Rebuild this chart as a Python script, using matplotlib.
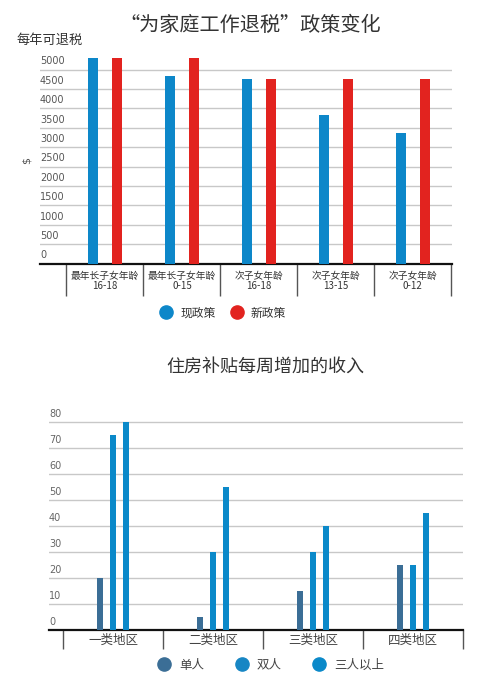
import numpy as np
import matplotlib
matplotlib.use("Agg")
import matplotlib.pyplot as plt
import matplotlib.transforms as mtransforms
from matplotlib.lines import Line2D

plt.rcParams['font.family'] = ['Noto Sans CJK SC', 'DejaVu Sans']

# top chart data
tax_cats = ["最年长子女年龄\n16-18", "最年长子女年龄\n0-15", "次子女年龄\n16-18",
            "次子女年龄\n13-15", "次子女年龄\n0-12"]
tax_now = [5290, 4825, 4750, 3820, 3355]
tax_new = [5290, 5290, 4750, 4750, 4750]
tax_ticks = [0, 500, 1000, 1500, 2000, 2500, 3000, 3500, 4000, 4500, 5000]

# bottom chart data
area_cats = ["一类地区", "二类地区", "三类地区", "四类地区"]
single = [20, 5, 15, 25]
couple = [75, 30, 30, 25]
three_plus = [80, 55, 40, 45]
area_ticks = [0, 10, 20, 30, 40, 50, 60, 70, 80]

c_blue = "#0d87c9"
c_red = "#e2231f"
c_dark = "#3b6e96"
c_blue2 = "#0b89c9"
grid_c = "#c8c8c8"

fig = plt.figure(figsize=(5, 6.86), dpi=100)

# ---------- top chart ----------
ax1 = fig.add_axes([0.08, 1 - 263.5 / 686, 0.824, 205.6 / 686])
x = np.arange(len(tax_cats))
ax1.bar(x - 0.155, tax_now, width=0.13, color=c_blue, zorder=3)
ax1.bar(x + 0.155, tax_new, width=0.13, color=c_red, zorder=3)
ax1.set_xlim(-0.844, 4.51)
ax1.set_ylim(0, 5300)
for v in tax_ticks[1:]:
    ax1.axhline(v, color=grid_c, lw=1, zorder=1)
tr1 = mtransforms.blended_transform_factory(ax1.transAxes, ax1.transData)
for v in tax_ticks:
    ax1.text(0.0, v + 80, str(v), transform=tr1, ha='left', va='bottom',
             fontsize=7, color="#555555", family='DejaVu Sans')
ax1.set_yticks([])
ax1.set_xticks(x)
ax1.set_xticklabels(tax_cats, fontsize=7, color="#333333", linespacing=1.1)
ax1.set_xticks(np.arange(len(tax_cats) + 1) - 0.5, minor=True)
ax1.tick_params(axis='x', which='major', length=0, pad=5)
ax1.tick_params(axis='x', which='minor', length=23, width=1, color="#555555")
for s in ['top', 'right', 'left']:
    ax1.spines[s].set_visible(False)
ax1.spines['bottom'].set_linewidth(1.6)
ax1.spines['bottom'].set_color("#111111")

fig.text(0.5, 1 - 25 / 686, "“为家庭工作退税”政策变化", ha='center', va='center',
         fontsize=14.5, color="#333333")
fig.text(17 / 500, 1 - 40 / 686, "每年可退税", ha='left', va='center',
         fontsize=9.5, color="#333333")
fig.text(27 / 500, 1 - 160 / 686, "$", ha='center', va='center', rotation=90,
         fontsize=8, color="#555555", family='DejaVu Sans')

h1 = [Line2D([], [], marker='o', ls='', color=c_blue, markersize=9.5),
      Line2D([], [], marker='o', ls='', color=c_red, markersize=9.5)]
fig.legend(h1, ["现政策", "新政策"], loc='center', bbox_to_anchor=(220 / 500, 1 - 313 / 686),
           ncol=2, frameon=False, fontsize=8.5, handletextpad=0.2, columnspacing=0.8,
           labelcolor="#333333")

# ---------- bottom chart ----------
ax2 = fig.add_axes([0.098, 1 - 630 / 686, 0.828, 209 / 686])
x2 = np.arange(len(area_cats))
ax2.bar(x2 - 0.13, single, width=0.06, color=c_dark, zorder=3)
ax2.bar(x2, couple, width=0.06, color=c_blue2, zorder=3)
ax2.bar(x2 + 0.13, three_plus, width=0.06, color=c_blue2, zorder=3)
ax2.set_xlim(-0.64, 3.5)
ax2.set_ylim(0, 80.5)
for v in area_ticks[1:]:
    ax2.axhline(v, color=grid_c, lw=1, zorder=1)
tr2 = mtransforms.blended_transform_factory(ax2.transAxes, ax2.transData)
for v in area_ticks:
    ax2.text(0.0, v + 1.3, str(v), transform=tr2, ha='left', va='bottom',
             fontsize=7, color="#666666", family='DejaVu Sans')
ax2.set_yticks([])
ax2.set_xticks(x2)
ax2.set_xticklabels(area_cats, fontsize=9, color="#444444")
ax2.set_xticks(np.arange(len(area_cats) + 1) - 0.5, minor=True)
ax2.tick_params(axis='x', which='major', length=0, pad=3)
ax2.tick_params(axis='x', which='minor', length=14, width=1, color="#555555")
for s in ['top', 'right', 'left']:
    ax2.spines[s].set_visible(False)
ax2.spines['bottom'].set_linewidth(1.6)
ax2.spines['bottom'].set_color("#111111")

fig.text(265 / 500, 1 - 367 / 686, "住房补贴每周增加的收入", ha='center', va='center',
         fontsize=13, color="#333333")

h2 = [Line2D([], [], marker='o', ls='', color=c, markersize=9.5)
      for c in [c_dark, "#1786c4", c_blue2]]
fig.legend(h2, ["单人", "双人", "三人以上"], loc='center', bbox_to_anchor=(268 / 500, 1 - 665 / 686),
           ncol=3, frameon=False, fontsize=9, handletextpad=0.2, columnspacing=2.0,
           labelcolor="#444444")

fig.savefig("out.png", dpi=100, facecolor='white')
